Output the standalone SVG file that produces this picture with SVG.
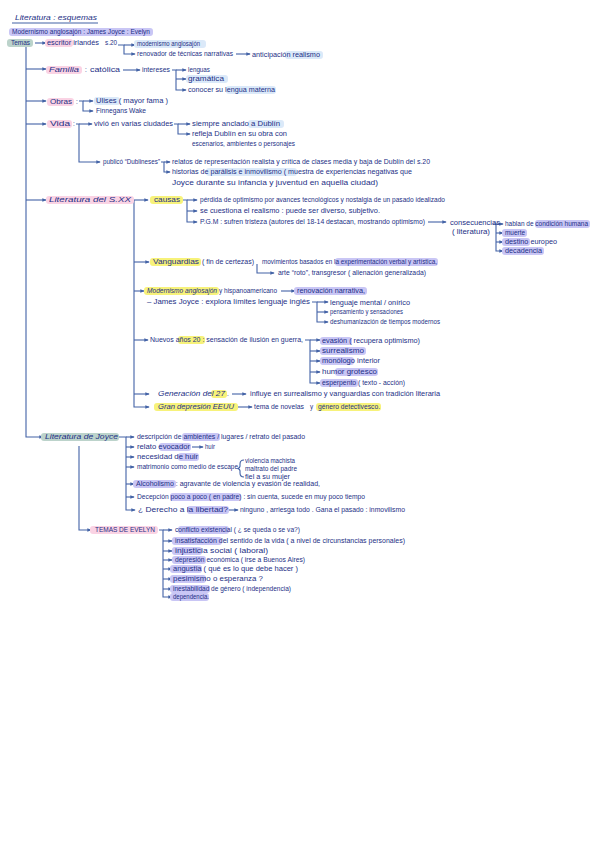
<svg xmlns="http://www.w3.org/2000/svg" width="599" height="848" viewBox="0 0 599 848">
<style>
text{font-family:"Liberation Sans","DejaVu Sans",sans-serif;font-size:6.3px;fill:#1c2f85}
.b{font-size:7.2px;font-style:italic}
.c{stroke:#4262a6;stroke-width:1.1;fill:none}
.hp{fill:#fad3e4}.hl{fill:#c9c6f5}.hb{fill:#dbe9f9}.hy{fill:#f7f27a}.hg{fill:#bcd3cb}
</style>
<defs>
<marker id="ar" viewBox="0 0 6 6" refX="5" refY="3" markerWidth="4" markerHeight="4" orient="auto"><path d="M0,0.5 L6,3 L0,5.5 z" fill="#4262a6"/></marker>
</defs>
<rect width="599" height="848" fill="#ffffff"/>

<g id="connectors" class="c" marker-end="url(#ar)">
<path d="M35,43 H46"/>
<path d="M26,46 V437 H43"/>
<path d="M26,69 H46"/><path d="M26,101 H46"/><path d="M26,124 H46"/><path d="M26,200 H46"/>
<path d="M118,45 H124 V54 H135"/><path d="M124,45 H135"/>
<path d="M236,54 H250"/>
<path d="M123,70 H140"/>
<path d="M172,70 H176 V90 H186"/><path d="M176,70 H186"/><path d="M176,79 H186"/>
<path d="M79,101 H83 V111 H93"/><path d="M83,101 H93"/>
<path d="M76,124 H79 V162 H100"/><path d="M79,124 H92"/>
<path d="M174,124 H178 V134 H190"/><path d="M178,124 H190"/>
<path d="M161,162 H164 V172 H170"/><path d="M164,162 H170"/>
<path d="M134,200 H148"/>
<path d="M134,200 V407 H149"/>
<path d="M134,262 H149"/><path d="M134,291 H144"/><path d="M134,340 H148"/><path d="M134,394 H149"/>
<path d="M183,200 H187 V222 H197"/><path d="M187,200 H197"/><path d="M187,211 H197"/>
<path d="M428,222 H446"/>
<path d="M493,224 H496 V251 H503"/><path d="M496,224 H503"/><path d="M496,233 H503"/><path d="M496,242 H503"/>
<path d="M257,264 V273 H274"/>
<path d="M281,291 H295"/>
<path d="M312,302 H317 V322 H328"/><path d="M317,302 H328"/><path d="M317,312 H328"/>
<path d="M305,340 H310 V383 H320"/><path d="M310,340 H320"/><path d="M310,351 H320"/><path d="M310,361 H320"/><path d="M310,372 H320"/>
<path d="M232,394 H246"/>
<path d="M238,407 H252"/>
<path d="M119,437 H126 V510 H135"/><path d="M126,437 H134"/><path d="M126,447 H134"/><path d="M126,457 H134"/><path d="M126,467 H134"/><path d="M126,484 H134"/><path d="M126,497 H134"/>
<path d="M192,447 H203"/>
<path d="M229,510 H238"/>
<path d="M79,446 V530 H91"/>
<path d="M159,530 H163 V597 H172"/><path d="M163,530 H172"/><path d="M163,541 H172"/><path d="M163,551 H172"/><path d="M163,560 H172"/><path d="M163,569 H172"/><path d="M163,579 H172"/><path d="M163,589 H172"/>
<path d="M244,460 Q240,460 240,464 V466 Q240,468 237.5,468.5 Q240,469 240,471 V473 Q240,477 244,477" marker-end="none"/>
</g>

<g id="title"><text class="b" x="15" y="20" textLength="82" lengthAdjust="spacingAndGlyphs">Literatura : esquemas</text><path class="c" d="M12,23 H98"/></g>
<g id="subtitle"><rect class="hl" x="9" y="28" width="144" height="8" rx="3"/><text x="12" y="34.2" textLength="138" lengthAdjust="spacingAndGlyphs">Modernismo anglosajón : James Joyce : Evelyn</text></g>
<g id="temas"><rect class="hg" x="7" y="39" width="26" height="8" rx="3"/><text x="11" y="45.2" textLength="19" lengthAdjust="spacingAndGlyphs">Temas</text></g>
<g id="escritor"><rect class="hp" x="45" y="39" width="28" height="8" rx="3"/><text x="47" y="45.2" textLength="52" lengthAdjust="spacingAndGlyphs">escritor irlandés</text><text x="105" y="45.2" textLength="12" lengthAdjust="spacingAndGlyphs">s.20</text></g>
<g id="modernismo-ang"><rect class="hb" x="134" y="40" width="72" height="8" rx="3"/><text x="137" y="46.2" textLength="63" lengthAdjust="spacingAndGlyphs">modernismo anglosajón</text></g>
<g id="renovador"><text x="137" y="56.2" textLength="96" lengthAdjust="spacingAndGlyphs">renovador de técnicas narrativas</text></g>
<g id="anticipacion"><rect class="hb" x="285" y="51" width="38" height="8" rx="3"/><text x="252" y="57.2" textLength="68" lengthAdjust="spacingAndGlyphs">anticipación realismo</text></g>

<g id="familia"><rect class="hp" x="46" y="66" width="36" height="8" rx="3"/><text class="b" x="49" y="72.2" textLength="30" lengthAdjust="spacingAndGlyphs">Familia</text><text x="85" y="72.2">:</text><text x="90" y="72.2" textLength="30" lengthAdjust="spacingAndGlyphs">católica</text></g>
<g id="intereses"><text x="142" y="72.2" textLength="28" lengthAdjust="spacingAndGlyphs">intereses</text></g>
<g id="lenguas"><text x="188" y="72.2" textLength="22" lengthAdjust="spacingAndGlyphs">lenguas</text></g>
<g id="gramatica"><rect class="hb" x="186" y="75" width="42" height="8" rx="3"/><text x="188" y="81.2" textLength="36" lengthAdjust="spacingAndGlyphs">gramática</text></g>
<g id="conocer"><rect class="hb" x="226" y="86" width="50" height="8" rx="3"/><text x="188" y="92.2" textLength="87" lengthAdjust="spacingAndGlyphs">conocer su lengua materna</text></g>

<g id="obras"><rect class="hp" x="47" y="98" width="27" height="8" rx="3"/><text x="50" y="104.2" textLength="22" lengthAdjust="spacingAndGlyphs">Obras</text><text x="76" y="104.2">:</text></g>
<g id="ulises"><rect class="hb" x="94" y="97" width="26" height="8" rx="3"/><text x="96" y="103.2" textLength="72" lengthAdjust="spacingAndGlyphs">Ulises ( mayor fama )</text></g>
<g id="finnegans"><text x="96" y="113.2" textLength="50" lengthAdjust="spacingAndGlyphs">Finnegans Wake</text></g>

<g id="vida"><rect class="hp" x="47" y="120" width="25" height="8" rx="3"/><text x="50" y="126.2" textLength="20" lengthAdjust="spacingAndGlyphs">Vida</text><text x="73" y="126.2">:</text></g>
<g id="vivio"><text x="94" y="126.2" textLength="79" lengthAdjust="spacingAndGlyphs">vivió en varias ciudades</text></g>
<g id="anclado"><rect class="hb" x="248" y="120" width="36" height="8" rx="3"/><text x="192" y="126.2" textLength="88" lengthAdjust="spacingAndGlyphs">siempre anclado a Dublín</text></g>
<g id="refleja"><text x="192" y="136.2" textLength="95" lengthAdjust="spacingAndGlyphs">refleja Dublín en su obra con</text><text x="192" y="146.2" textLength="103" lengthAdjust="spacingAndGlyphs">escenarios, ambientes o personajes</text></g>
<g id="publico"><text x="103" y="164.2" textLength="57" lengthAdjust="spacingAndGlyphs">publicó “Dublineses”</text></g>
<g id="relatos"><text x="172" y="164.2" textLength="258" lengthAdjust="spacingAndGlyphs">relatos de representación realista y crítica de clases media y baja de Dublín del s.20</text></g>
<g id="historias"><rect class="hb" x="206" y="168" width="91" height="8" rx="3"/><text x="172" y="174.2" textLength="240" lengthAdjust="spacingAndGlyphs">historias de parálisis e inmovilismo ( muestra de experiencias negativas que</text><text x="172" y="185.2" textLength="206" lengthAdjust="spacingAndGlyphs">Joyce durante su infancia y juventud en aquella ciudad)</text></g>

<g id="lit-sxx"><rect class="hp" x="46" y="196" width="88" height="8" rx="3"/><text class="b" x="49" y="202.4" textLength="82" lengthAdjust="spacingAndGlyphs">Literatura del S.XX</text></g>
<g id="causas"><rect class="hy" x="150" y="196" width="33" height="8" rx="3"/><text x="154" y="202.2" textLength="26" lengthAdjust="spacingAndGlyphs">causas</text></g>
<g id="perdida"><text x="200" y="202.2" textLength="245" lengthAdjust="spacingAndGlyphs">pérdida de optimismo por avances tecnológicos y nostalgia de un pasado idealizado</text></g>
<g id="cuestiona"><text x="200" y="213.2" textLength="180" lengthAdjust="spacingAndGlyphs">se cuestiona el realismo : puede ser diverso, subjetivo.</text></g>
<g id="pgm"><text x="200" y="224.2" textLength="225" lengthAdjust="spacingAndGlyphs">P.G.M : sufren tristeza (autores del 18-14 destacan, mostrando optimismo)</text></g>
<g id="consecuencias"><text x="450" y="225.2" textLength="50" lengthAdjust="spacingAndGlyphs">consecuencias</text><text x="452" y="234.2" textLength="38" lengthAdjust="spacingAndGlyphs">( literatura)</text></g>
<g id="humana"><rect class="hl" x="535" y="220" width="55" height="8" rx="3"/><text x="505" y="226.2" textLength="83" lengthAdjust="spacingAndGlyphs">hablan de condición humana</text></g>
<g id="muerte"><rect class="hl" x="502" y="229" width="25" height="8" rx="3"/><text x="505" y="235.2" textLength="20" lengthAdjust="spacingAndGlyphs">muerte</text></g>
<g id="destino"><rect class="hl" x="502" y="238" width="28" height="8" rx="3"/><text x="505" y="244.2" textLength="52" lengthAdjust="spacingAndGlyphs">destino europeo</text></g>
<g id="decadencia"><rect class="hl" x="502" y="247" width="42" height="8" rx="3"/><text x="505" y="253.2" textLength="37" lengthAdjust="spacingAndGlyphs">decadencia</text></g>

<g id="vanguardias"><rect class="hy" x="150" y="258" width="51" height="8" rx="3"/><text x="153" y="264.2" textLength="46" lengthAdjust="spacingAndGlyphs">Vanguardias</text><text x="202" y="264.2" textLength="52" lengthAdjust="spacingAndGlyphs">( fin de certezas)</text></g>
<g id="movimientos"><rect class="hl" x="335" y="258" width="103" height="8" rx="3"/><text x="262" y="264.2" textLength="175" lengthAdjust="spacingAndGlyphs">movimientos basados en la experimentación verbal y artística,</text></g>
<g id="arte"><text x="278" y="275.2" textLength="148" lengthAdjust="spacingAndGlyphs">arte “roto”, transgresor ( alienación generalizada)</text></g>
<g id="modernismo"><rect class="hy" x="144" y="287" width="75" height="8" rx="3"/><text class="b" x="147" y="293.2" textLength="70" lengthAdjust="spacingAndGlyphs">Modernismo anglosajón</text><text x="219" y="293.2" textLength="58" lengthAdjust="spacingAndGlyphs">y hispanoamericano</text></g>
<g id="renovacion"><rect class="hl" x="294" y="287" width="73" height="8" rx="3"/><text x="297" y="293.2" textLength="68" lengthAdjust="spacingAndGlyphs">renovación narrativa,</text></g>
<g id="jjoyce"><text x="147" y="304.2" textLength="163" lengthAdjust="spacingAndGlyphs">– James Joyce : explora límites lenguaje inglés</text></g>
<g id="onirico"><text x="330" y="305.2" textLength="80" lengthAdjust="spacingAndGlyphs">lenguaje mental / onírico</text></g>
<g id="pensamiento"><text x="330" y="314.2" textLength="73" lengthAdjust="spacingAndGlyphs">pensamiento y sensaciones</text></g>
<g id="deshumanizacion"><text x="330" y="324.2" textLength="110" lengthAdjust="spacingAndGlyphs">deshumanización de tiempos modernos</text></g>
<g id="nuevos"><rect class="hy" x="178" y="336" width="27" height="8" rx="3"/><text x="150" y="342.2" textLength="153" lengthAdjust="spacingAndGlyphs">Nuevos años 20 : sensación de ilusión en guerra,</text></g>
<g id="evasion"><rect class="hl" x="320" y="337" width="32" height="8" rx="3"/><text x="322" y="343.2" textLength="98" lengthAdjust="spacingAndGlyphs">evasión ( recupera optimismo)</text></g>
<g id="surrealismo"><rect class="hl" x="320" y="347" width="46" height="8" rx="3"/><text x="322" y="353.2" textLength="42" lengthAdjust="spacingAndGlyphs">surrealismo</text></g>
<g id="monologo"><rect class="hl" x="320" y="357" width="34" height="8" rx="3"/><text x="322" y="363.2" textLength="58" lengthAdjust="spacingAndGlyphs">monólogo interior</text></g>
<g id="humor"><rect class="hl" x="335" y="368" width="43" height="8" rx="3"/><text x="322" y="374.2" textLength="55" lengthAdjust="spacingAndGlyphs">humor grotesco</text></g>
<g id="esperpento"><rect class="hl" x="320" y="379" width="38" height="8" rx="3"/><text x="322" y="385.2" textLength="83" lengthAdjust="spacingAndGlyphs">esperpento ( texto - acción)</text></g>
<g id="generacion"><rect class="hy" x="211" y="390" width="16" height="8" rx="3"/><text class="b" x="158" y="396.4" textLength="67" lengthAdjust="spacingAndGlyphs">Generación del 27</text><text x="227" y="396.2">.</text></g>
<g id="influye"><text x="250" y="396.2" textLength="190" lengthAdjust="spacingAndGlyphs">influye en surrealismo y vanguardias con tradición literaria</text></g>
<g id="depresion"><rect class="hy" x="154" y="403" width="84" height="8" rx="3"/><text class="b" x="158" y="409.4" textLength="76" lengthAdjust="spacingAndGlyphs">Gran depresión EEUU</text></g>
<g id="novelas"><rect class="hy" x="316" y="403" width="65" height="8" rx="3"/><text x="254" y="409.2" textLength="50" lengthAdjust="spacingAndGlyphs">tema de novelas</text><text x="310" y="409.2">y</text><text x="318" y="409.2" textLength="62" lengthAdjust="spacingAndGlyphs">género detectivesco.</text></g>

<g id="lit-joyce"><rect class="hg" x="41" y="433" width="78" height="8" rx="3"/><text class="b" x="45" y="439.4" textLength="73" lengthAdjust="spacingAndGlyphs">Literatura de Joyce</text></g>
<g id="j-descripcion"><rect class="hl" x="182" y="433" width="38" height="8" rx="3"/><text x="137" y="439.2" textLength="168" lengthAdjust="spacingAndGlyphs">descripción de ambientes / lugares / retrato del pasado</text></g>
<g id="j-relato"><rect class="hl" x="159" y="443" width="32" height="8" rx="3"/><text x="137" y="449.2" textLength="53" lengthAdjust="spacingAndGlyphs">relato evocador</text><text x="205" y="449.2" textLength="10" lengthAdjust="spacingAndGlyphs">huir</text></g>
<g id="j-necesidad"><rect class="hl" x="178" y="453" width="21" height="8" rx="3"/><text x="137" y="459.2" textLength="61" lengthAdjust="spacingAndGlyphs">necesidad de huir</text></g>
<g id="j-matrimonio"><text x="137" y="469.2" textLength="101" lengthAdjust="spacingAndGlyphs">matrimonio como medio de escape</text></g>
<g id="j-violencia"><text x="245" y="463" textLength="50" lengthAdjust="spacingAndGlyphs">violencia machista</text><text x="245" y="471" textLength="52" lengthAdjust="spacingAndGlyphs">maltrato del padre</text><text x="245" y="479" textLength="45" lengthAdjust="spacingAndGlyphs">fiel a su mujer</text></g>
<g id="j-alcoholismo"><rect class="hl" x="133" y="480" width="43" height="8" rx="3"/><text x="136" y="486.2" textLength="184" lengthAdjust="spacingAndGlyphs">Alcoholismo : agravante de violencia y evasión de realidad,</text></g>
<g id="j-decepcion"><rect class="hl" x="170" y="493" width="71" height="8" rx="3"/><text x="137" y="499.2" textLength="228" lengthAdjust="spacingAndGlyphs">Decepción poco a poco ( en padre) : sin cuenta, sucede en muy poco tiempo</text></g>
<g id="j-derecho"><rect class="hl" x="187" y="506" width="42" height="8" rx="3"/><text x="138" y="512.2" textLength="90" lengthAdjust="spacingAndGlyphs">¿ Derecho a la libertad?</text><text x="240" y="512.2" textLength="165" lengthAdjust="spacingAndGlyphs">ninguno , arriesga todo . Gana el pasado : inmovilismo</text></g>

<g id="temas-evelyn"><rect class="hp" x="90" y="526" width="68" height="8" rx="3"/><text x="95" y="532.2" textLength="60" lengthAdjust="spacingAndGlyphs">TEMAS DE EVELYN</text></g>
<g id="e-conflicto"><rect class="hl" x="178" y="526" width="51" height="8" rx="3"/><text x="175" y="532.2" textLength="125" lengthAdjust="spacingAndGlyphs">conflicto existencial ( ¿ se queda o se va?)</text></g>
<g id="e-insatisfaccion"><rect class="hl" x="172" y="537" width="50" height="8" rx="3"/><text x="175" y="543.2" textLength="230" lengthAdjust="spacingAndGlyphs">insatisfacción del sentido de la vida ( a nivel de circunstancias personales)</text></g>
<g id="e-injusticia"><rect class="hl" x="172" y="547" width="30" height="8" rx="3"/><text x="175" y="553.2" textLength="93" lengthAdjust="spacingAndGlyphs">injusticia social ( laboral)</text></g>
<g id="e-depresion"><rect class="hl" x="172" y="556" width="34" height="8" rx="3"/><text x="175" y="562.2" textLength="130" lengthAdjust="spacingAndGlyphs">depresión económica ( irse a Buenos Aires)</text></g>
<g id="e-angustia"><rect class="hl" x="170" y="565" width="32" height="8" rx="3"/><text x="173" y="571.2" textLength="125" lengthAdjust="spacingAndGlyphs">angustia ( qué es lo que debe hacer )</text></g>
<g id="e-pesimismo"><rect class="hl" x="170" y="575" width="36" height="8" rx="3"/><text x="173" y="581.2" textLength="90" lengthAdjust="spacingAndGlyphs">pesimismo o esperanza ?</text></g>
<g id="e-inestabilidad"><rect class="hl" x="170" y="585" width="40" height="8" rx="3"/><text x="173" y="591.2" textLength="118" lengthAdjust="spacingAndGlyphs">inestabilidad de género ( independencia)</text></g>
<g id="e-dependencia"><rect class="hl" x="170" y="593" width="39" height="8" rx="3"/><text x="173" y="599.2" textLength="36" lengthAdjust="spacingAndGlyphs">dependencia.</text></g>
</svg>
